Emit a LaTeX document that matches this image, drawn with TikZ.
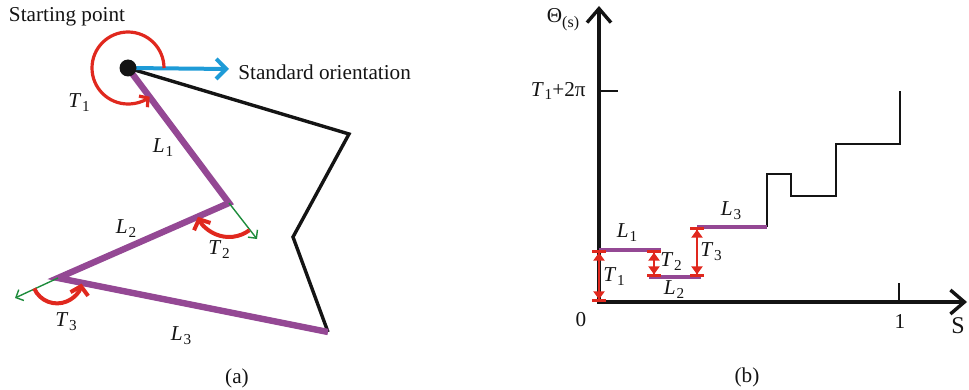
\documentclass[tikz,border=0pt]{standalone}
\usepackage{fontspec}
\setmainfont{Liberation Serif}
\usepackage{tikz}
\usepackage{xcolor}
\usetikzlibrary{arrows.meta,positioning,calc}
\definecolor{ink}{HTML}{141414}
\definecolor{segpurple}{HTML}{944894}
\definecolor{turnred}{HTML}{E0281E}
\definecolor{refblue}{HTML}{1E9BD7}
\definecolor{dirgreen}{HTML}{1E8C3C}
\newcommand{\subsym}[2]{\textit{#1}\kern0.04em\raisebox{-0.4ex}{\fontsize{7.6}{8}\selectfont #2}}
\tikzset{
  every node/.style={inner sep=0pt, font=\fontsize{10.6}{12.7}\selectfont, text=ink},
  pathseg/.style={draw=segpurple, line width=3.2pt, line join=miter},
  outline/.style={draw=ink, line width=1.7pt, line join=miter},
  refarrow/.style={draw=refblue, line width=2pt,
    -{Straight Barb[length=5pt,width=10pt]}},
  dirarrow/.style={draw=dirgreen, line width=0.7pt,
    -{Straight Barb[length=3pt,width=6pt]}},
  anglearc/.style={draw=turnred, line width=1.6pt,
    -{Straight Barb[length=3pt,width=7pt]}},
  bigarc/.style={draw=turnred, line width=2pt,
    -{Straight Barb[length=4pt,width=9pt]}},
  axisline/.style={draw=ink, line width=1.7pt,
    {Straight Barb[length=7pt,width=12pt]}-{Straight Barb[length=7pt,width=12pt]}},
  tickline/.style={draw=ink, line width=1pt},
  stairline/.style={draw=ink, line width=0.8pt},
  steplevel/.style={draw=segpurple, line width=1.8pt},
  turnmark/.style={draw=turnred, line width=1.3pt,
    {Bar[width=7pt]Triangle[length=4pt,width=5.5pt]}-{Triangle[length=4pt,width=5.5pt]Bar[width=7pt]}}
}
\begin{document}
\begin{tikzpicture}[x=0.5pt,y=-0.5pt]
\useasboundingbox (0,0) rectangle (969,390);

\coordinate (P0) at (128,68);
\coordinate (P1) at (229,203);
\coordinate (P2) at (58,278);
\coordinate (P3) at (328,332);
\coordinate (Q1) at (349,134);
\coordinate (Q2) at (293,237);
\coordinate (refend) at (229,69);
\coordinate (G1) at (257,239);
\coordinate (G2) at (15,298);

\draw[outline] (P0) -- (Q1) -- (Q2) -- (P3);
\draw[pathseg] (P0) -- (P1) -- (P2) -- (P3);
\draw[dirarrow] (P1) -- (G1);
\draw[dirarrow] (P2) -- (G2);
\draw[refarrow] (P0) -- (refend);
\fill[ink] (P0) circle (8.5);
\draw[anglearc] ($(P0)+(36,0)$) arc[start angle=0, end angle=-307, radius=36];
\draw[bigarc] ($(P1)+(53.2:34)$) arc[start angle=53.2, end angle=156, radius=34];
\draw[bigarc] ($(P2)+(156.3:26)$) arc[start angle=156.3, end angle=12, radius=25];

\node (startlbl) at (67,17) {Starting point};
\node[anchor=west] (reflbl) at (238,72) {Standard orientation};
\node (t1a) at (79,103) {\subsym{T}{1}};
\node (l1a) at (163,148) {\subsym{L}{1}};
\node (l2a) at (126,229) {\subsym{L}{2}};
\node (t2a) at (219,250) {\subsym{T}{2}};
\node (t3a) at (66,322) {\subsym{T}{3}};
\node (l3a) at (181,336) {\subsym{L}{3}};
\node (capa) at (237,378) {(a)};

\coordinate (O) at (599,302);
\coordinate (ytop) at (599,6);
\coordinate (xend) at (967,302);
\coordinate (A0) at (599,250);
\coordinate (A1) at (654,250);
\coordinate (A2) at (654,277);
\coordinate (A3) at (697,277);
\coordinate (A4) at (697,227);
\coordinate (A5) at (767,227);
\coordinate (B1) at (767,174);
\coordinate (B2) at (791,174);
\coordinate (B3) at (791,196);
\coordinate (B4) at (836,196);
\coordinate (B5) at (836,144);
\coordinate (B6) at (900,144);
\coordinate (B7) at (900,91);

\draw[axisline] (ytop) -- (O) -- (xend);
\draw[tickline] (599,91) -- (618,91);
\draw[tickline] (899,302) -- (899,283);
\draw[stairline] (A5) -- (B1) -- (B2) -- (B3) -- (B4) -- (B5) -- (B6) -- (B7);
\draw[steplevel] (A0) -- ($(A1)+(7,0)$);
\draw[steplevel] ($(A2)+(-5,0)$) -- ($(A3)+(4,0)$);
\draw[steplevel] (A4) -- (A5);
\draw[turnmark] (O) -- (A0);
\draw[turnmark] (A2) -- (A1);
\draw[turnmark] (A3) -- (A4);

\node (thetalbl) at (563,20) {Θ\raisebox{-0.5ex}{\fontsize{8}{9}\selectfont (s)}};
\node[anchor=east] (toplbl) at (586,91) {\subsym{T}{1}+2π};
\node (zerolbl) at (581,320) {0};
\node (onelbl) at (900,322) {1};
\node (slbl) at (958,326) {\fontsize{12}{14}\selectfont S};
\node (l1b) at (627,233) {\subsym{L}{1}};
\node (t1b) at (614,277) {\subsym{T}{1}};
\node (t2b) at (671,262) {\subsym{T}{2}};
\node (l2b) at (674,290) {\subsym{L}{2}};
\node (t3b) at (711,252) {\subsym{T}{3}};
\node (l3b) at (731,211) {\subsym{L}{3}};
\node (capb) at (747,377) {(b)};
\end{tikzpicture}
\end{document}
